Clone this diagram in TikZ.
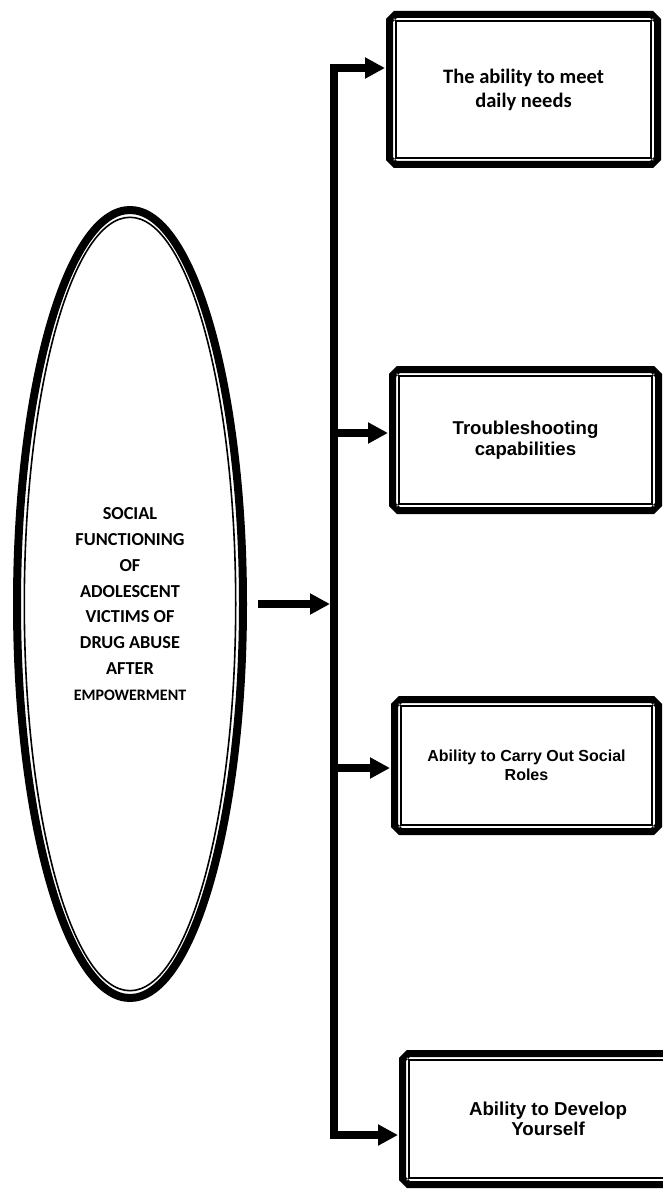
\documentclass[tikz,border=0pt]{standalone}
\usepackage{fontspec}
\newfontfamily\calibri{Carlito}
\newfontfamily\arial{Liberation Sans}
\usetikzlibrary{arrows.meta,shapes.geometric,shapes.misc,calc,positioning}

\tikzset{
  frame/.style={chamfered rectangle, chamfered rectangle xsep=3pt, draw, line width=7pt, inner sep=0pt, align=center},
  tip/.style={-{Triangle[length=20pt,width=20pt]}},
  conn/.style={line width=7.5pt, tip},
}

\begin{document}
\begin{tikzpicture}[x=1pt, y=-1pt]
			\useasboundingbox (0,0) rectangle (662,1190);
			\node[draw, ellipse, line width=8pt, minimum width=226pt, minimum height=788pt, align=center, font=\calibri\bfseries\fontsize{18.3}{25.9}\selectfont] (E) at (130,604) {SOCIAL\\FUNCTIONING\\OF\\ADOLESCENT\\VICTIMS OF\\DRUG ABUSE\\AFTER\\{\fontsize{16}{25.9}\selectfont EMPOWERMENT}};
			\draw[line width=1.6pt] (E.center) ellipse [x radius=105.7pt, y radius=386.7pt];
			
			\node[frame, minimum width=268pt, minimum height=150pt, font=\calibri\bfseries\fontsize{20.5}{24}\selectfont] (B1) at (523.5,89.5) {The ability to meet\\daily needs};
			\node[frame, minimum width=266pt, minimum height=141pt, font=\arial\bfseries\fontsize{18.6}{20.5}\selectfont] (B2) at (525.5,440) {Troubleshooting\\capabilities};
			\node[frame, minimum width=264pt, minimum height=132pt, font=\arial\bfseries\fontsize{16}{19}\selectfont] (B3) at (526.5,765.5) {Ability to Carry Out Social\\Roles};
			\node[frame, minimum width=291pt, minimum height=131pt, font=\arial\bfseries\fontsize{18.7}{20.5}\selectfont] (B4) at (548,1119) {Ability to Develop\\Yourself};
			
			% inner thin frames
			\foreach \b in {B1,B2,B3,B4}{
				\draw[line width=1.8pt] ($(\b.west |- \b.north)+(10.2pt,-10.2pt)$) rectangle ($(\b.east |- \b.south)+(-10.2pt,10.2pt)$);
				\draw[line width=0.4pt, fill=white] ($(\b.west |- \b.north)+(8.2pt,-8.2pt)$) circle [radius=1.2pt]
					($(\b.east |- \b.north)+(-8.2pt,-8.2pt)$) circle [radius=1.2pt]
					($(\b.west |- \b.south)+(8.2pt,8.2pt)$) circle [radius=1.2pt]
					($(\b.east |- \b.south)+(-8.2pt,8.2pt)$) circle [radius=1.2pt];
			}
			
			\coordinate (top) at (334,68);
			\coordinate (bot) at (334,1135);
			
			\draw[conn, {Triangle[length=20pt,width=20pt]}-{Triangle[length=20pt,width=20pt]}, shorten <=1pt, shorten >=1pt] (bot -| B4.west) -- (bot) -- (top) -- (top -| B1.west);
			\draw[conn, shorten >=1pt] ([yshift=7pt]B2.west -| top) -- ([yshift=7pt]B2.west);
			\draw[conn, shorten >=1pt] ([yshift=-2.5pt]B3.west -| top) -- ([yshift=-2.5pt]B3.west);
			\draw[conn, shorten <=11pt, shorten >=4pt] (E.east) -- (E.east -| top);
\end{tikzpicture}
\end{document}
